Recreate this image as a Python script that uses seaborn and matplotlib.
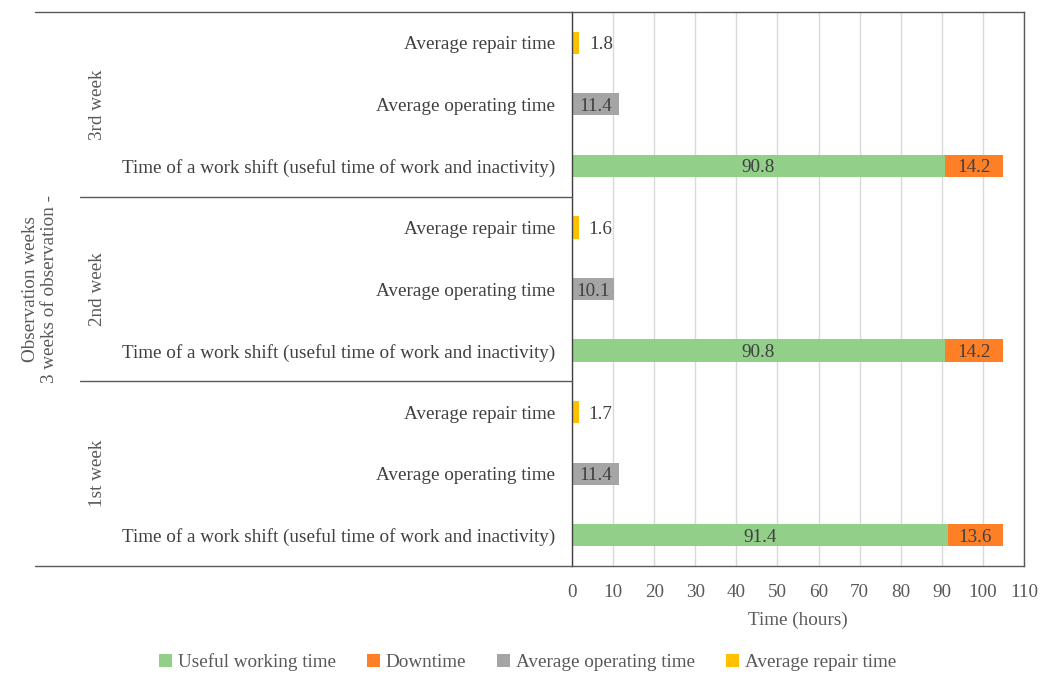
import numpy as np
import pandas as pd
import seaborn as sns
import matplotlib.pyplot as plt
import matplotlib.transforms as mtransforms
from matplotlib.patches import Patch
from matplotlib.lines import Line2D

# ---------------- data ----------------
weeks = ["3rd week", "2nd week", "1st week"]
categories = ["Average repair time", "Average operating time",
              "Time of a work shift (useful time of work and inactivity)"]
useful_working_time = [90.8, 90.8, 91.4]
downtime = [14.2, 14.2, 13.6]
average_operating_time = [11.4, 10.1, 11.4]
average_repair_time = [1.8, 1.6, 1.7]
x_ticks = list(range(0, 111, 10))
series_names = ["Useful working time", "Downtime", "Average operating time", "Average repair time"]
outer_label = "Observation weeks\n3 weeks of observation -"
x_label = "Time (hours)"

colors = {"Useful working time": "#92D08A", "Downtime": "#FF7F27",
          "Average operating time": "#A5A5A5", "Average repair time": "#FFC000"}

# ---------------- build tables ----------------
keys = [f"{w}|{c}" for w in weeks for c in categories]

shift = pd.DataFrame({"key": [f"{w}|{categories[2]}" for w in weeks],
                      "useful": useful_working_time, "down": downtime})
shift["total"] = shift["useful"] + shift["down"]
oper = pd.DataFrame({"key": [f"{w}|{categories[1]}" for w in weeks],
                     "value": average_operating_time})
rep = pd.DataFrame({"key": [f"{w}|{categories[0]}" for w in weeks],
                    "value": average_repair_time})

# ---------------- figure ----------------
sns.set_theme(style="white")
plt.rcParams["font.family"] = ["Liberation Serif", "DejaVu Serif"]
txt = "#595959"
fs = 13.8
fig = plt.figure(figsize=(10.51, 6.75), dpi=100)
ax = fig.add_axes([572 / 1051, 1 - 566 / 675, (1024 - 572) / 1051, (566 - 12) / 675])

bw = 0.36
sns.barplot(data=shift, y="key", x="total", order=keys, orient="h", color=colors["Downtime"],
            width=bw, saturation=1, ax=ax, linewidth=0)
sns.barplot(data=shift, y="key", x="useful", order=keys, orient="h", color=colors["Useful working time"],
            width=bw, saturation=1, ax=ax, linewidth=0)
sns.barplot(data=oper, y="key", x="value", order=keys, orient="h", color=colors["Average operating time"],
            width=bw, saturation=1, ax=ax, linewidth=0)
sns.barplot(data=rep, y="key", x="value", order=keys, orient="h", color=colors["Average repair time"],
            width=bw, saturation=1, ax=ax, linewidth=0)

lab_col = "#404040"
for _, r in shift.iterrows():
    y = keys.index(r["key"])
    ax.text(r["useful"] / 2, y, f"{r['useful']:.1f}", ha="center", va="center_baseline", fontsize=fs, color=lab_col)
    ax.text(r["useful"] + r["down"] / 2, y, f"{r['down']:.1f}", ha="center", va="center_baseline", fontsize=fs, color=lab_col)
for _, r in oper.iterrows():
    y = keys.index(r["key"])
    ax.text(r["value"] / 2, y, f"{r['value']:.1f}", ha="center", va="center_baseline", fontsize=fs, color=lab_col)
for _, r in rep.iterrows():
    y = keys.index(r["key"])
    ax.annotate(f"{r['value']:.1f}", (r["value"], y), xytext=(7, 0), textcoords="offset points",
                ha="left", va="center_baseline", fontsize=fs, color=lab_col)

ax.set_xlim(0, 110)
ax.set_xticks(x_ticks)
ax.set_xticklabels([str(t) for t in x_ticks], fontsize=fs, color=txt)
ax.set_yticks(range(len(keys)))
ax.set_yticklabels([k.split("|")[1] for k in keys], fontsize=fs, color="#404040")
ax.tick_params(axis="y", length=0, pad=12)
ax.tick_params(axis="x", length=0, pad=13)
ax.set_ylabel("")
ax.set_xlabel(x_label, fontsize=fs, color=txt, labelpad=8)
ax.xaxis.grid(True, color="#D9D9D9", linewidth=1)
ax.set_axisbelow(True)
for s in ["top", "bottom", "right"]:
    ax.spines[s].set_color("#595959")
    ax.spines[s].set_linewidth(1)
ax.spines["left"].set_color("#404040")
ax.spines["left"].set_linewidth(1)

# multi-level category structure
ax_left = 572 / 1051
tr = mtransforms.blended_transform_factory(fig.transFigure, ax.transData)
tra = mtransforms.blended_transform_factory(fig.transFigure, ax.transAxes)
for yv in [2.5, 5.5]:
    fig.add_artist(Line2D([80 / 1051, ax_left], [yv, yv], transform=tr, color="#595959", linewidth=1))
for yv in [0, 1]:
    fig.add_artist(Line2D([35 / 1051, ax_left], [yv, yv], transform=tra, color="#595959", linewidth=1))
for i, w in enumerate(weeks):
    fig.text(97 / 1051, 3 * i + 1, w, transform=tr, rotation=90, ha="center", va="center",
             fontsize=fs, color=txt)
fig.text(40 / 1051, 0.5, outer_label, transform=tra, rotation=90, ha="center", va="center",
         fontsize=fs, color=txt, multialignment="center", linespacing=1.2)

handles = [Patch(facecolor=colors[s], edgecolor="none") for s in series_names]
fig.legend(handles, series_names, loc="center", bbox_to_anchor=(0.502, 1 - 662 / 675), ncol=4,
           frameon=False, fontsize=fs, handlelength=0.7, handleheight=0.7, handletextpad=0.3,
           columnspacing=1.6, labelcolor=txt)

fig.savefig("out.png", dpi=100)
